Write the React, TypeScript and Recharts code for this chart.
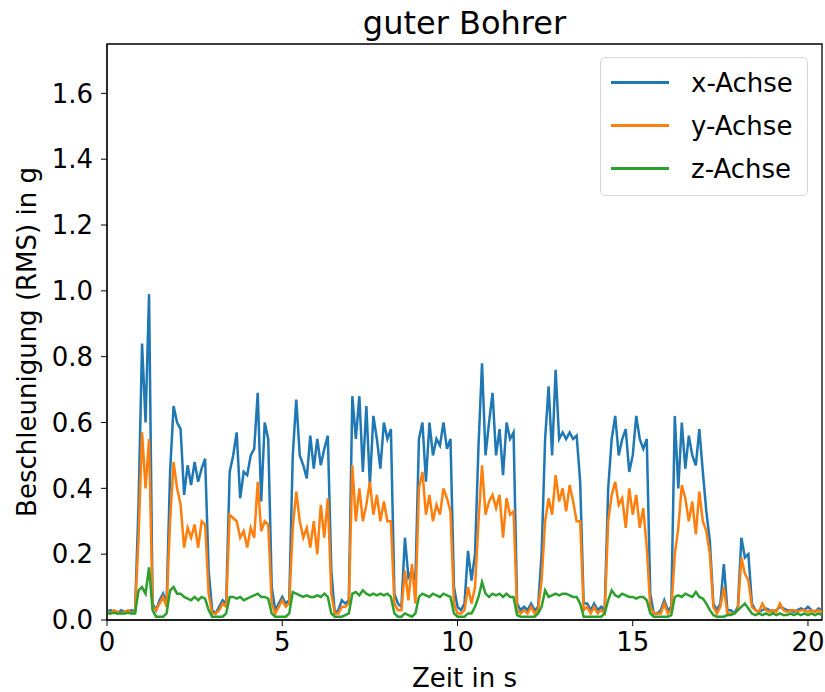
import { LineChart, Line, XAxis, YAxis, ReferenceArea } from 'recharts';

// sample spacing of the recording, in seconds
const sampleStep = 0.1;

const xAchse = [
  0.025, 0.03, 0.025, 0.02, 0.03, 0.025, 0.025, 0.03, 0.025, 0.35,
  0.84, 0.6, 0.99, 0.05, 0.03, 0.06, 0.08, 0.05, 0.45, 0.65,
  0.6, 0.58, 0.38, 0.47, 0.41, 0.48, 0.42, 0.46, 0.49, 0.15,
  0.03, 0.02, 0.04, 0.06, 0.05, 0.45, 0.5, 0.57, 0.37, 0.45,
  0.44, 0.5, 0.52, 0.69, 0.36, 0.6, 0.55, 0.1, 0.03, 0.05,
  0.07, 0.05, 0.06, 0.5, 0.67, 0.5, 0.47, 0.43, 0.56, 0.46,
  0.55, 0.47, 0.52, 0.56, 0.15, 0.02, 0.03, 0.06, 0.05, 0.06,
  0.68, 0.55, 0.68, 0.45, 0.65, 0.41, 0.62, 0.55, 0.46, 0.6,
  0.55, 0.58, 0.08, 0.05, 0.04, 0.25, 0.13, 0.15, 0.12, 0.55,
  0.6, 0.42, 0.6, 0.5, 0.55, 0.53, 0.6, 0.52, 0.55, 0.1,
  0.04, 0.03, 0.05, 0.21, 0.12, 0.2, 0.53, 0.78, 0.5, 0.6,
  0.69, 0.5, 0.58, 0.44, 0.6, 0.55, 0.57, 0.05, 0.03, 0.04,
  0.03, 0.05, 0.03, 0.04, 0.2, 0.55, 0.71, 0.5, 0.76, 0.55,
  0.57, 0.55, 0.57, 0.55, 0.56, 0.42, 0.05, 0.05, 0.03, 0.05,
  0.03, 0.04, 0.03, 0.4, 0.55, 0.62, 0.5, 0.55, 0.58, 0.45,
  0.5, 0.62, 0.55, 0.52, 0.55, 0.08, 0.02, 0.02, 0.03, 0.06,
  0.03, 0.04, 0.62, 0.4, 0.6, 0.46, 0.56, 0.5, 0.47, 0.58,
  0.45, 0.33, 0.24, 0.05, 0.03, 0.05, 0.17, 0.03, 0.03, 0.02,
  0.04, 0.25, 0.19, 0.2, 0.05, 0.03, 0.025, 0.03, 0.035, 0.03,
  0.025, 0.03, 0.04, 0.035, 0.03, 0.03, 0.025, 0.03, 0.035, 0.03,
  0.04, 0.03, 0.025, 0.035, 0.03,
];

const yAchse = [
  0.025, 0.02, 0.03, 0.025, 0.02, 0.025, 0.03, 0.02, 0.025, 0.25,
  0.57, 0.4, 0.55, 0.04, 0.03, 0.05, 0.07, 0.04, 0.3, 0.48,
  0.4, 0.35, 0.22, 0.28, 0.25, 0.29, 0.22, 0.3, 0.29, 0.08,
  0.02, 0.02, 0.03, 0.05, 0.04, 0.32, 0.31, 0.3, 0.25, 0.27,
  0.22, 0.28, 0.25, 0.42, 0.27, 0.3, 0.29, 0.05, 0.02, 0.04,
  0.06, 0.04, 0.05, 0.28, 0.39, 0.3, 0.25, 0.28, 0.22, 0.3,
  0.2, 0.35, 0.25, 0.37, 0.08, 0.02, 0.02, 0.04, 0.04, 0.05,
  0.47, 0.3, 0.4, 0.3, 0.35, 0.42, 0.32, 0.38, 0.3, 0.36,
  0.3, 0.3, 0.05, 0.03, 0.03, 0.15, 0.06, 0.17, 0.05, 0.4,
  0.45, 0.32, 0.38, 0.3, 0.35, 0.32, 0.4, 0.37, 0.33, 0.05,
  0.02, 0.02, 0.03, 0.1, 0.05, 0.1, 0.3, 0.47, 0.32, 0.36,
  0.38, 0.34, 0.38, 0.25, 0.37, 0.32, 0.33, 0.03, 0.02, 0.03,
  0.02, 0.04, 0.02, 0.03, 0.12, 0.3, 0.37, 0.32, 0.44, 0.36,
  0.4, 0.33, 0.41, 0.36, 0.3, 0.3, 0.03, 0.04, 0.02, 0.04,
  0.02, 0.03, 0.02, 0.3, 0.38, 0.42, 0.35, 0.37, 0.28, 0.4,
  0.32, 0.38, 0.28, 0.34, 0.22, 0.04, 0.02, 0.02, 0.02, 0.05,
  0.02, 0.03, 0.2, 0.28, 0.41, 0.37, 0.3, 0.36, 0.26, 0.39,
  0.3, 0.27, 0.2, 0.04, 0.02, 0.04, 0.1, 0.02, 0.02, 0.02,
  0.03, 0.19, 0.14, 0.12, 0.04, 0.03, 0.025, 0.05, 0.03, 0.025,
  0.03, 0.025, 0.05, 0.03, 0.025, 0.03, 0.03, 0.025, 0.03, 0.03,
  0.025, 0.03, 0.025, 0.03, 0.025,
];

const zAchse = [
  0.02, 0.02, 0.022, 0.02, 0.02, 0.02, 0.022, 0.02, 0.02, 0.09,
  0.1, 0.08, 0.16, 0.03, 0.01, 0.01, 0.01, 0.02, 0.09, 0.1,
  0.08, 0.08, 0.07, 0.065, 0.06, 0.07, 0.06, 0.07, 0.065, 0.03,
  0.01, 0.01, 0.01, 0.01, 0.02, 0.07, 0.07, 0.065, 0.07, 0.06,
  0.065, 0.07, 0.075, 0.08, 0.07, 0.07, 0.065, 0.02, 0.01, 0.01,
  0.01, 0.01, 0.02, 0.085, 0.08, 0.075, 0.07, 0.075, 0.07, 0.07,
  0.075, 0.07, 0.08, 0.07, 0.02, 0.01, 0.01, 0.01, 0.015, 0.02,
  0.08, 0.085, 0.075, 0.09, 0.08, 0.075, 0.08, 0.075, 0.08, 0.075,
  0.08, 0.07, 0.02, 0.01, 0.01, 0.02, 0.015, 0.01, 0.02, 0.07,
  0.08, 0.075, 0.07, 0.08, 0.075, 0.07, 0.08, 0.075, 0.07, 0.02,
  0.01, 0.01, 0.01, 0.02, 0.02, 0.04, 0.07, 0.115, 0.08, 0.07,
  0.08, 0.075, 0.08, 0.07, 0.08, 0.07, 0.07, 0.015, 0.01, 0.01,
  0.01, 0.01, 0.01, 0.02, 0.04, 0.09, 0.07, 0.075, 0.08, 0.075,
  0.08, 0.08, 0.075, 0.07, 0.07, 0.05, 0.01, 0.01, 0.01, 0.01,
  0.01, 0.01, 0.02, 0.06, 0.09, 0.075, 0.07, 0.08, 0.075, 0.07,
  0.07, 0.065, 0.07, 0.07, 0.06, 0.02, 0.01, 0.01, 0.01, 0.01,
  0.01, 0.015, 0.07, 0.075, 0.07, 0.08, 0.075, 0.07, 0.085, 0.07,
  0.065, 0.05, 0.03, 0.015, 0.01, 0.01, 0.01, 0.015, 0.015, 0.02,
  0.03, 0.04, 0.05, 0.035, 0.02, 0.015, 0.02, 0.015, 0.02, 0.015,
  0.02, 0.015, 0.02, 0.015, 0.015, 0.02, 0.015, 0.02, 0.015, 0.02,
  0.015, 0.02, 0.015, 0.02, 0.015,
];

const xTicks = [0, 5, 10, 15, 20];
const yTicks = [0, 0.2, 0.4, 0.6, 0.8, 1.0, 1.2, 1.4, 1.6];

const series = [
  { key: 'x', name: 'x-Achse', color: '#1f77b4' },
  { key: 'y', name: 'y-Achse', color: '#ff7f0e' },
  { key: 'z', name: 'z-Achse', color: '#2ca02c' },
];

const data = xAchse.map((v, i) => ({
  t: Math.round(i * sampleStep * 10) / 10,
  x: v,
  y: yAchse[i],
  z: zAchse[i],
}));

const tMax = data[data.length - 1].t;
const font = '"DejaVu Sans", sans-serif';
const tickStyle = { fontSize: 26, fill: '#000', fontFamily: font };

function YTitle(props: any) {
  const vb = props.viewBox || { x: 0, y: 44, width: 107, height: 576 };
  const cy = vb.y + vb.height / 2 + 10;
  const cx = 36;
  return (
    <text
      x={cx}
      y={cy}
      transform={`rotate(-90 ${cx} ${cy})`}
      textAnchor="middle"
      fontSize={26}
      fontFamily={font}
      fill="#000"
    >
      Beschleunigung (RMS) in g
    </text>
  );
}

// legend box in the upper right corner of the axes
function LegendBox() {
  return (
    <div
      style={{
        position: 'absolute',
        left: 600,
        top: 57,
        width: 206,
        height: 134,
        border: '1px solid #d6d6d6',
        borderRadius: 5,
        background: 'rgba(255,255,255,0.8)',
        paddingTop: 3,
        boxSizing: 'content-box',
      }}
    >
      {series.map((s) => (
        <div key={s.key} style={{ display: 'flex', alignItems: 'center', height: 43 }}>
          <div style={{ marginLeft: 10, width: 58, height: 2.6, background: s.color }} />
          <span
            style={{
              marginLeft: 22,
              fontSize: 26,
              fontFamily: font,
              color: '#000',
              lineHeight: '26px',
            }}
          >
            {s.name}
          </span>
        </div>
      ))}
    </div>
  );
}

export default function App() {
  return (
    <div style={{ position: 'absolute', left: 0, top: 0, width: 825, height: 692, background: '#fff' }}>
      <div
        style={{
          position: 'absolute',
          left: 107,
          width: 715,
          top: 7,
          textAlign: 'center',
          fontSize: 32,
          lineHeight: '32px',
          fontFamily: font,
          color: '#000',
        }}
      >
        guter Bohrer
      </div>
      <LineChart
        width={825}
        height={692}
        data={data}
        margin={{ top: 44, right: 3, left: 0, bottom: 0 }}
      >
        <XAxis
          dataKey="t"
          type="number"
          domain={[0, tMax]}
          ticks={xTicks}
          allowDataOverflow
          height={72}
          tickSize={6}
          tickMargin={7}
          tick={tickStyle}
          stroke="#000"
          label={{ value: 'Zeit in s', position: 'insideBottom', offset: 5, fontSize: 26, fill: '#000', fontFamily: font }}
        />
        <YAxis
          type="number"
          domain={[0, 1.75]}
          ticks={yTicks}
          allowDataOverflow
          width={107}
          tickSize={6}
          tickMargin={8}
          tick={tickStyle}
          stroke="#000"
          tickFormatter={(v: number) => v.toFixed(1)}
          label={<YTitle />}
        />
        <ReferenceArea x1={0} x2={tMax} y1={0} y2={1.75} fill="none" stroke="#000" strokeWidth={1.3} />
        {series.map((s) => (
          <Line
            key={s.key}
            type="linear"
            dataKey={s.key}
            name={s.name}
            stroke={s.color}
            strokeWidth={2.5}
            dot={false}
            activeDot={false}
            isAnimationActive={false}
          />
        ))}
      </LineChart>
      <LegendBox />
    </div>
  );
}
